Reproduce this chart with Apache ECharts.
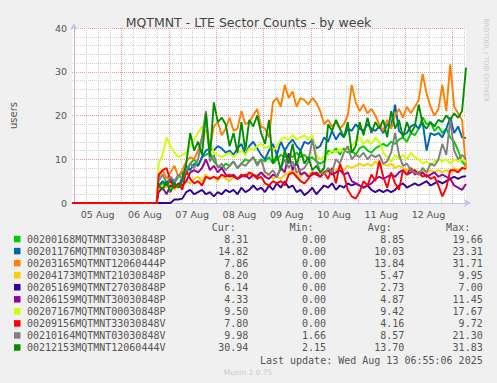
<!DOCTYPE html>
<html><head><meta charset="utf-8">
<script src="https://cdn.jsdelivr.net/npm/echarts@6/dist/echarts.min.js"></script>
<style>html,body{margin:0;padding:0;background:#f0f0f0}#c{width:497px;height:383px}</style>
</head><body><div id="c"></div>
<script>
// ---- data ----
const chartTitle = 'MQTMNT - LTE Sector Counts - by week';
const dayLabels = ['05 Aug','06 Aug','07 Aug','08 Aug','09 Aug','10 Aug','11 Aug','12 Aug'];
const dayNoonHours = [12,36,60,84,108,132,156,180];           // hours since 05 Aug 00:00
const axisStartHour = -1, axisEndHour = 199;                    // 04 Aug 22:55 .. 13 Aug 06:55
const dataStartHour = 43, dataStepHours = 2;                    // first sample 06 Aug 19:00
const zeroSpanHours = [-1, 42];                                 // series reading 0 before data start
const yTicks = [0,10,20,30,40];

const names = ['00200168MQTMNT33030848P','00201176MQTMNT03030848P','00203165MQTMNT12060444P',
  '00204173MQTMNT21030848P','00205169MQTMNT27030848P','00206159MQTMNT30030848P',
  '00207167MQTMNT00030848P','00209156MQTMNT33030848V','00210164MQTMNT03030848V','00212153MQTMNT12060444V'];
const colors = ['#00CC00','#0066B3','#FF8000','#FFCC00','#330099','#990099','#CCFF00','#FF0000','#808080','#008F00'];
const hasLeadingZeros = [true,true,true,true,true,true,true,true,false,false];
const curVals = [8.31,14.82,7.86,8.20,6.14,4.33,9.50,7.80,9.98,30.94];
const minVals = [0,0,0,0,0,0,0,0,1.66,2.15];
const avgVals = [8.85,10.03,13.84,5.47,2.73,4.87,9.42,4.16,8.57,13.70];
const maxVals = [19.66,23.31,31.71,9.95,7.00,11.45,17.67,9.72,21.30,31.83];
const lastUpdate = 'Last update: Wed Aug 13 06:55:06 2025';
const muninVersion = 'Munin 2.0.75';
const sideText = 'RRDTOOL / TOBI OETIKER';

const s00200168P = [4,4.5,3.8,5,4.5,6,7,6.5,9,10, 8.5,10.5,11,11.5,9.5,8.5,8,9,8.5,9.5,
  8,9,10,9.5,10.5,9,10,9.5,10.5,9, 10,11,10.5,11,10.5,11.5,10.5,11,10,10.5,
  9.5,9,9.5,12,11.5,12.5,11,12.5,11.5,12, 11,12.5,13,12,11.5,12.5,13,13.5,13,14,
  13.5,14.5,15,14,16,15.5,17,19.6,18,18.5, 16.5,17.5,16,17,15,14,12,9.5,8.31];
const s00201176P = [4,5,4,5.5,4.5,3.5,6,8.5,7.5,9, 8.5,10.5,12,12.5,12,13,12.5,11.5,12,11,
  12.5,13.5,11,13,14,12.5,11,10,12,13.5, 11,14,12,13.5,14.5,13,12,14,13.5,14.5,
  12.5,13,15,14,16.5,14.5,16,15,17,16.5, 18,17,16.5,18,17,16.5,17.5,16,18,17.5,
  22.5,16.5,15.5,16,17.5,18,17,18.5,12,16, 15.5,16,15,17,19.5,16,17.5,15,14.82];
const s00203165P = [6,7.5,5.5,7,8.5,6,7.5,9.5,10.5,10, 12,15,16.5,12.5,17.5,18.5,15.5,17,19.5,16.5,
  17,21,18,18.5,20,21.5,17.5,17,15,23, 24,22,27,24,25.5,22,24,23.5,22.5,24,
  23,21,18,19,17.5,18.5,17,18,20,27, 23,21,22.5,20.5,21.5,20,18,16.5,19,17,
  20,21.5,19.5,22,20.5,22,23.5,29.5,25,22, 20,21.5,27,21,31.7,22,20.5,19,7.86];
const s00204173P = [3,4,3.5,4.5,3,4,3.5,5,4.5,5.5, 6,5,6.5,5.5,6,5,6.5,5.5,5,6,
  5.5,6.5,6,6.5,6,6.5,7,6,6.5,5.5, 6,5.5,6.5,7,7.5,6.5,6,7,6.5,7,
  6.5,7,7.5,7,8,7.5,8,7.5,8.5,8, 8.5,9,8.5,9,8.5,9.5,8.5,9,8.5,9,
  8,8.5,8,7.5,8,7.5,7,7.5,7,7.5, 7,7.5,7,7.5,7,8,7.5,8,8.2];
const s00205169P = [0,0,0,0,0.8,0.8,1,2.5,3,2, 2.5,3,2,2.5,1.5,2.5,2,3,2.5,3,
  2,3.5,2.5,3,4,3,3.5,2.5,4,3, 4.5,3.5,5,3.5,4,2.5,3,1.8,2.5,3.5,
  2,3,4,3.5,4.5,3,4,3.5,4.5,4, 4.5,4,3.5,4,3,2.5,3,2.5,3,2.5,
  3,4,4.5,3.5,4,4.5,4,4.5,5,4, 4.5,5,4.5,5,5.5,6,5.5,6,6.14];
const s00206159P = [2.5,3.5,2,4,3.5,4.5,4,5,7,7.5, 7,8,10,7.5,8.5,7,8,6.5,6,6.5,
  5.5,6,6.5,5.5,6.5,6,7,6,5.5,6.5, 6,8,7,11.4,7.5,9.5,6.5,7,6,6.5,
  7,6,7,7.5,6.5,7,7.5,6.5,7,5, 4.5,4,3.5,4,4.5,5.5,6,5.5,6,6.5,
  6,7,7.5,6.5,7,7.5,6.5,7,6,6.5, 7,6,6.5,6,5.5,4,3.5,3,4.33];
const s00207167P = [9,11,15,13,11.5,10.5,11,11.5,13,14.5, 16,17.5,16,14,11.5,11,10.5,11,11.5,10.5,
  11.5,12,11,12.5,12,13,13.5,12.5,13,12, 13,14.5,15,14.5,15.5,14.5,15,15.5,14.5,15.5,
  11,10,10.5,11,12,11.5,12.5,11.5,12.5,13, 14,15,13.5,14.5,13.5,15,14,11.5,10.5,9.5,
  11,10,11,10,11.5,10.5,10,9,9.5,8.5, 9.5,10,9.5,10,9,10,9.5,10,9.5];
const s00209156V = [6.5,7.5,8,5,3.5,4.5,3,7.5,5.5,4.5, 5,4,6,5.5,6,5.5,6.5,6,6.5,6,
  5.5,6.5,6,7,6.5,5.5,6,4.5,4,5, 4.5,5,4,6.5,7,6,5,4.5,5.5,7,
  6.5,6,7,5.5,8,4.5,9,6.5,3,1.5, 1,2.5,5,4,6.5,5,9.7,6,3.5,7,
  4.5,3,7.5,6.5,8,6.5,7,6,6.5,5.5, 6,4,1.5,3.5,7.5,7.5,7,8,7.8];
const s00210164V = [5,6.5,4.5,6,5,6.5,5.5,7.5,9,8, 10,15,21,9.5,11,8,9,7.5,8.5,9.5,
  8,9,8.5,9.5,10.5,8.5,10,7,6.5,7.5, 6,8,10,8,9.5,7,7.5,8,9.5,14.5,
  10,7,6.5,8,7,10,9,11.5,13,10, 11,10.5,11.5,10,11,10.5,11,9,9.5,11.5,
  16,11,8.5,9,7.5,7,6.5,8,7,9, 8.5,10,13.5,11,19,12,10,11,9.98];
const s00212153V = [4,3,5,2.5,4.5,3.5,5,9,16,12, 14,11,20.5,10.5,23,18.5,19.5,18,13,16,
  11.5,18.5,12,19,17.5,20,16,13.5,19,9, 11,7.5,12,9,13.5,8.5,12,9,10.5,7.5,
  8.5,7,8,18,16.5,19,17,15,18.5,11.5, 13,18.5,15.5,19.5,16,18.5,17,19,15,21,
  17,19,15,18.5,16,17.5,22.5,18,17,18.5, 17.5,19,18.5,20,19,20.5,19.5,21,30.94];
const seriesValues = [s00200168P,s00201176P,s00203165P,s00204173P,s00205169P,
  s00206159P,s00207167P,s00209156V,s00210164V,s00212153V];

// ---- styles ----
const MAJOR = '#eb9a9a', MINOR = '#d0d0d0', AXIS = '#c4c4f4', TXT = '#555';
const GRID = {left:66, top:28, width:400, height:175};
const DASH = [1,1];
const crispShift = 0.25; // hours = half a pixel, keeps 1px grid lines sharp

const minorHours = [];
for (let d = 0; d <= 8; d++) for (let q = 1; q <= 3; q++) { const h = d*24 + q*6; if (h < axisEndHour) minorHours.push(h); }
const midnightHours = [];
for (let d = 0; d <= 8; d++) midnightHours.push(d*24);

const vLines = minorHours.map(h => ({xAxis:h + crispShift, lineStyle:{color:MINOR, type:DASH, width:1}}))
  .concat(midnightHours.map(h => ({xAxis:h + crispShift, lineStyle:{color:MAJOR, type:DASH, width:1}})));

const series = [{
  type:'line', data:[], silent:true,
  markLine:{silent:true, z:1, symbol:['none','none'], label:{show:false}, animation:false, data:vLines}
}];
seriesValues.forEach((vals, i) => {
  const pts = [];
  if (hasLeadingZeros[i]) zeroSpanHours.forEach(h => pts.push([h, 0]));
  vals.forEach((v, k) => pts.push([dataStartHour + k*dataStepHours, v]));
  series.push({
    name:names[i], type:'line', data:pts, showSymbol:false, symbol:'none',
    lineStyle:{color:colors[i], width:1.9}, itemStyle:{color:colors[i]},
    animation:false, silent:true, z:2
  });
});

// legend table
const graphic = [];
const rowY0 = 239.3, rowStep = 12.05, headerY = 227.7;
const colRight = [248.3, 326, 404.3, 482.7];
const headers = ['Cur:','Min:','Avg:','Max:'];
const mono = '10px "DejaVu Sans Mono"';
function txt(x, y, s, font, fill, align) {
  return {type:'text', x:x, y:y, style:{text:s, font:font, fill:fill, align:align, textAlign:align, verticalAlign:'middle', textVerticalAlign:'middle'}};
}
headers.forEach((h, j) => graphic.push(txt(colRight[j]-12.5, headerY, h, mono, TXT, 'right')));
names.forEach((n, i) => {
  const y = rowY0 + i*rowStep;
  graphic.push({type:'rect', shape:{x:14, y:y-3.5, width:6.5, height:6.5}, style:{fill:colors[i]}});
  graphic.push(txt(27, y, n, mono, TXT, 'left'));
  [curVals[i], minVals[i], avgVals[i], maxVals[i]].forEach((v, j) => graphic.push(txt(colRight[j], y, v.toFixed(2), mono, TXT, 'right')));
});
graphic.push(txt(482.7, 360, lastUpdate, mono, TXT, 'right'));
graphic.push(txt(248, 372, muninVersion, '7.4px "DejaVu Sans"', '#cacaca', 'center'));
const side = txt(486, 60, sideText, '6.5px "DejaVu Sans"', '#c8c8c8', 'center');
side.rotation = -Math.PI/2;
graphic.push(side);

const chart = echarts.init(document.getElementById('c'), null, {renderer:'svg', width:497, height:383});
chart.setOption({
  backgroundColor:'#f0f0f0',
  animation:false,
  title:{text:chartTitle, left:'center', top:11,
    textStyle:{fontFamily:'DejaVu Sans', fontSize:12.5, fontWeight:'normal', color:'#444'}},
  grid:{left:GRID.left, top:GRID.top, width:GRID.width, height:GRID.height, show:true, backgroundColor:'#ffffff', borderWidth:0},
  xAxis:{type:'value', min:axisStartHour, max:axisEndHour,
    splitLine:{show:false}, axisTick:{show:false},
    axisLine:{show:true, onZero:false, lineStyle:{color:AXIS, width:1}, symbol:['none','arrow'], symbolSize:[6,7], symbolOffset:[0,5]},
    axisLabel:{customValues:dayNoonHours, margin:6, fontFamily:'DejaVu Sans', fontSize:9.5, color:TXT,
      formatter:(v) => { const i = dayNoonHours.indexOf(v); return i >= 0 ? dayLabels[i] : ''; }}},
  yAxis:{type:'value', min:0, max:40, interval:2,
    name:'users', nameLocation:'middle', nameRotate:90, nameGap:54,
    nameTextStyle:{fontFamily:'DejaVu Sans', fontSize:10, color:TXT},
    axisTick:{show:false},
    axisLine:{show:true, lineStyle:{color:AXIS, width:1}, symbol:['none','arrow'], symbolSize:[6,7], symbolOffset:[0,5]},
    splitLine:{show:true, lineStyle:{color:[MAJOR,MINOR,MINOR,MINOR,MINOR], type:DASH, width:1}},
    axisLabel:{margin:5, fontFamily:'DejaVu Sans', fontSize:9.5, color:TXT,
      formatter:(v) => yTicks.indexOf(v) >= 0 ? String(v) : ''}},
  series:series,
  graphic:graphic
});
</script></body></html>
